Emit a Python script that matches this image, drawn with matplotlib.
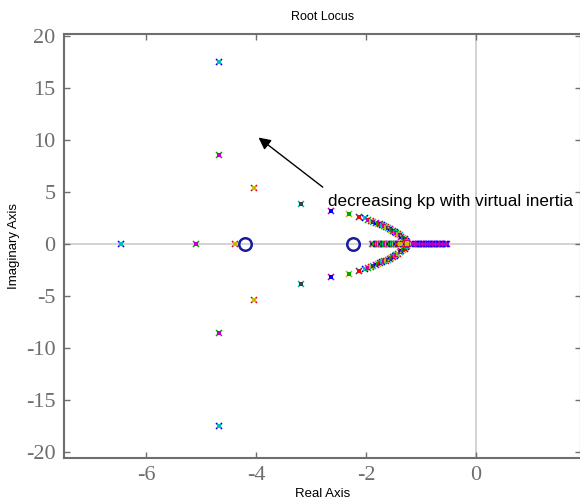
import numpy as np
import matplotlib.pyplot as plt

plt.rcParams['axes.unicode_minus'] = False

# closed-loop poles for each kp value (upper half; lower half is the conjugate)
arc_re = [-4.67, -4.67, -4.04, -3.18, -2.64, -2.31, -2.13, -2.02, -1.96, -1.91,
          -1.87, -1.83, -1.79, -1.75, -1.71, -1.68, -1.64, -1.61, -1.57, -1.54,
          -1.51, -1.48, -1.45, -1.42, -1.39, -1.36, -1.33, -1.30, -1.28, -1.26, -1.25]
arc_im = [17.5, 8.6, 5.4, 3.85, 3.2, 2.85, 2.6, 2.45, 2.35, 2.25,
          2.15, 2.05, 1.96, 1.87, 1.78, 1.69, 1.6, 1.51, 1.42, 1.33,
          1.23, 1.13, 1.03, 0.93, 0.82, 0.7, 0.58, 0.45, 0.32, 0.18, 0.05]
real_a = [-6.47, -5.09, -4.38, -1.89, -1.87, -1.85, -1.83, -1.81, -1.79, -1.77,
          -1.75, -1.73, -1.71, -1.69, -1.67, -1.65, -1.63, -1.61, -1.59, -1.57,
          -1.55, -1.53, -1.51, -1.49, -1.47, -1.45, -1.43, -1.42, -1.40, -1.39, -1.38]
real_b = [-0.53, -0.55, -0.57, -0.60, -0.62, -0.64, -0.66, -0.68, -0.70, -0.72,
          -0.74, -0.76, -0.78, -0.80, -0.82, -0.84, -0.86, -0.88, -0.90, -0.92,
          -0.94, -0.96, -0.98, -1.00, -1.02, -1.04, -1.06, -1.08, -1.10, -1.12, -1.15]
zeros_re = [-4.2, -2.24]

colors = ['#0000ff', '#00aa00', '#ff0000', '#00bfbf', '#bf00bf', '#bfbf00', '#404040']

fig = plt.figure(figsize=(5.8, 4.99), dpi=100)
ax = fig.add_axes([64/580, 41/499, 517/580, 424/499])

ax.axhline(0, color='#cccccc', lw=1.2, zorder=0)
ax.axvline(0, color='#cccccc', lw=1.2, zorder=0)

for i in range(len(arc_re)):
    c = colors[i % 7]
    c2 = colors[(i + 3) % 7]
    xs = [arc_re[i], arc_re[i], real_a[i]]
    ys = [arc_im[i], -arc_im[i], 0]
    ax.plot(xs, ys, 'x', color=c, ms=5, mew=1.1, ls='none')
    ax.plot(xs, ys, 's', color=c2, ms=2.5, mew=0, ls='none')
    ax.plot(real_b[i], 0, 'x', color=colors[0] if i % 3 else colors[4],
            ms=5, mew=1.1)
    ax.plot(real_b[i], 0, 's', color=colors[4], ms=2.5, mew=0)

ax.plot(zeros_re, [0, 0], 'o', mfc='none', mec='#1a1aa0', ms=9, mew=1.8)

ax.annotate('', xy=(-4.0, 10.4), xytext=(-2.75, 5.3),
            arrowprops=dict(arrowstyle='-|>', color='black', lw=1,
                            mutation_scale=18))
ax.text(-2.7, 4.1, 'decreasing kp with virtual inertia', fontsize=12.3,
        family='Liberation Sans', va='center', ha='left')

ax.set_xlim(-7.5, 1.91)
ax.set_ylim(-20.6, 20.2)
ax.set_xticks([-6, -4, -2, 0])
ax.set_yticks(np.arange(-20, 21, 5))
ax.tick_params(direction='in', top=True, right=True, length=4, width=1,
               color='#6e6e6e', labelcolor='#6e6e6e', labelsize=16, pad=6)
for lab in ax.get_xticklabels() + ax.get_yticklabels():
    lab.set_family('Liberation Serif')
for s in ax.spines.values():
    s.set_color('#6e6e6e')
    s.set_linewidth(1.5)

ax.set_title('Root Locus', fontsize=9, family='Liberation Sans', pad=10)
ax.set_xlabel('Real Axis', fontsize=9.5, family='Liberation Sans', labelpad=2)
ax.set_ylabel('Imaginary Axis', fontsize=9.5, family='Liberation Sans', labelpad=4)

fig.savefig('out.png', dpi=100)
